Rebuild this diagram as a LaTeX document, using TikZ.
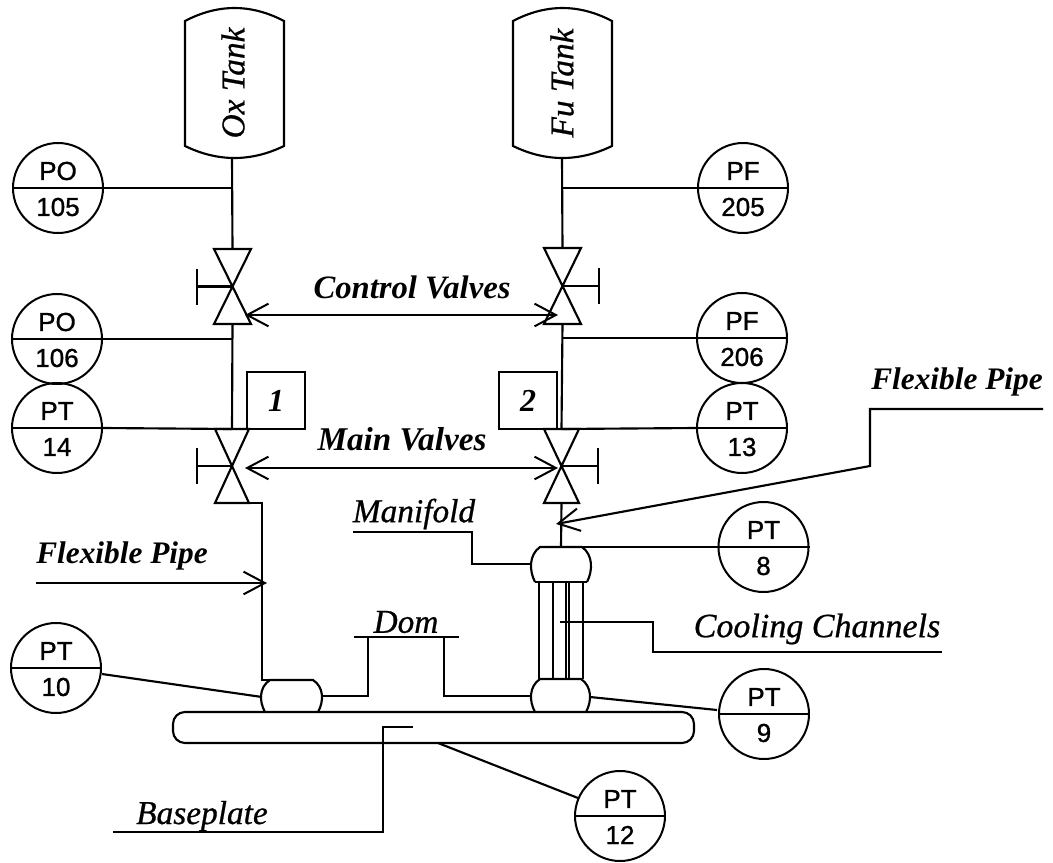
\documentclass[tikz,border=0pt]{standalone}
\usepackage{fontspec}
\setmainfont{Liberation Serif}
\newfontfamily\gaugefont[FakeBold=1]{Liberation Sans}
\newfontfamily\lblfont[ItalicFeatures={FakeBold=0.7}]{Liberation Serif}
\usetikzlibrary{arrows.meta}
\tikzset{
  pipe/.style={line width=1.6pt,line join=miter},
  lead/.style={line width=1.6pt},
  thinline/.style={line width=1.1pt},
  barbs/.style={-{Straight Barb[length=16pt,width=17pt,line width=1.5pt]}},
  bothbarbs/.style={{Straight Barb[length=16pt,width=17pt,line width=1.5pt]}-{Straight Barb[length=16pt,width=17pt,line width=1.5pt]}},
  gaugebox/.style={circle,draw,line width=1.5pt,minimum size=67.5pt,inner sep=0pt},
  gaugetxt/.style={font=\gaugefont\fontsize{19.5}{20}\selectfont,inner sep=0pt},
  labelb/.style={font=\bfseries\itshape\fontsize{#1}{26}\selectfont,inner sep=0pt},
  labelb/.default=24.2,
  labeli/.style={font=\lblfont\itshape\fontsize{#1}{27}\selectfont,inner sep=0pt},
  labeli/.default=25,
  numbox/.style={draw,line width=1.5pt,inner sep=0pt,minimum width=44pt,minimum height=43pt,font=\bfseries\itshape\fontsize{24}{26}\selectfont},
  every node/.append style={text=black}
}
% gauge: name, x, y, upper text, lower text
\newcommand{\mygauge}[5]{%
  \node[gaugebox] (#1) at (#2,#3) {};
  \draw[line width=1.5pt] (#1.west) -- (#1.east);
  \node[gaugetxt] (#1u) at (#2,#3-17) {#4};
  \node[gaugetxt] (#1l) at (#2,#3+19) {#5};
}
% valve: name, cx, top, bottom, half width, handle x
\newcommand{\myvalve}[6]{%
  \coordinate (#1t) at (#2,#3);
  \coordinate (#1b) at (#2,#4);
  \coordinate (#1c) at (#2,{(#3+#4)/2});
  \coordinate (#1r) at (#2+#5,#4);
  \coordinate (#1h) at (#6,{(#3+#4)/2});
  \draw[pipe] (#2-#5,#3) -- (#2+#5,#3) -- (#2-#5,#4) -- (#2+#5,#4) -- cycle;
  \draw[pipe] (#1c) -- (#1h);
  \draw[pipe] (#6,{(#3+#4)/2-18}) -- (#6,{(#3+#4)/2+18});
}
% chamber: x1,y1,x2,y2 (open at the bottom)
\newcommand{\mychamber}[4]{%
  \draw[pipe] (#1+4,#4) .. controls (#1-2,{#4-(#4-#2)*0.33}) and (#1-2,{#2+(#4-#2)*0.22}) .. (#1+9,#2)
    -- (#3-9,#2) .. controls (#3+2,{#2+(#4-#2)*0.22}) and (#3+2,{#4-(#4-#2)*0.33}) .. (#3-4,#4);
}
% tank: x1,x2
\newcommand{\mytank}[2]{%
  \draw[pipe] (#1,21) .. controls ({#1+33},3.7) and ({#2-33},3.7) .. (#2,21)
    -- (#2,146) .. controls ({#2-33},162) and ({#1+33},162) .. (#1,146) -- cycle;
}
\begin{document}
\begin{tikzpicture}[x=0.75pt,y=-0.75pt]
\useasboundingbox (0,0) rectangle (1053,863);
% tanks
\mytank{185}{284}
\mytank{513}{612}
\node[labeli,rotate=90] (oxtank) at (233,83) {Ox Tank};
\node[labeli,rotate=90] (futank) at (562,83) {Fu Tank};
\coordinate (oxout) at (232,158);
\coordinate (fuout) at (562,158);
% valves
\myvalve{cvl}{232.5}{249}{324}{18.5}{197}
\myvalve{cvr}{562.5}{248}{324}{18.5}{599}
\myvalve{mvl}{232}{429}{503}{17}{197}
\myvalve{mvr}{561.5}{429}{503}{17.5}{598}
% gauges
\mygauge{po105}{58}{188}{PO}{105}
\mygauge{pf205}{743}{188}{PF}{205}
\mygauge{po106}{57}{339}{PO}{106}
\mygauge{pf206}{742}{338}{PF}{206}
\mygauge{pt14}{57}{428}{PT}{14}
\mygauge{pt13}{742}{428}{PT}{13}
\mygauge{pt8}{763.5}{547}{PT}{8}
\mygauge{pt9}{764}{714}{PT}{9}
\mygauge{pt10}{56}{668}{PT}{10}
\mygauge{pt12}{620}{816}{PT}{12}
% number boxes
\node[numbox] (b1) at (276,400.5) {1};
\node[numbox] (b2) at (528,400.5) {2};
% chambers and baseplate
\mychamber{261}{680}{322}{712}
\mychamber{531}{679}{590}{712}
\mychamber{531}{547}{591}{582}
\coordinate (manbl) at (535,582);
\coordinate (manbr) at (587,582);
\draw[pipe] (manbl) -- (manbr);
\coordinate (manL) at (531,564);
\coordinate (botR) at (531,696);
\coordinate (botL) at (322,696);
\node[draw,line width=1.6pt,rounded corners=9pt,minimum width=390.75pt,minimum height=23.25pt,inner sep=0pt] (baseplate) at (433.5,727.5) {};
% cooling channels
\foreach \cx in {539,553,566,569,583}{\draw[thinline] (\cx,582) -- (\cx,679);}
% pipes
\draw[pipe] (oxout) -- (cvlt);
\draw[pipe] (fuout) -- (cvrt);
\draw[pipe] (cvlb) -- (mvlt);
\draw[pipe] (cvrb) -- (mvrt);
\coordinate (pipeLt) at (262,503);
\coordinate (pipeLb) at (262,680);
\coordinate (chamL) at (271,680);
\draw[pipe] (mvlr) -- (pipeLt) -- (pipeLb) -- (chamL);
\coordinate (manT) at (561,547);
\draw[pipe] (mvrb) -- (manT);
% dom
\coordinate (domLb) at (368,696);
\coordinate (domLt) at (368,637);
\coordinate (domRb) at (444,696);
\coordinate (domRt) at (444,637);
\coordinate (domA) at (354,637);
\coordinate (domB) at (459,637);
\draw[pipe] (botL) -- (domLb) -- (domLt);
\draw[pipe] (botR) -- (domRb) -- (domRt);
\draw[pipe] (domA) -- (domB);
\node[labeli] (domt) at (406,622) {Dom};
% gauge leads
\draw[lead] (po105.east) -- (232,188);
\draw[lead] (pf205.west) -- (562,188);
\draw[lead] (po106.east) -- (232,339);
\draw[lead] (pf206.west) -- (562,338);
\draw[lead] (pt14.east) -- (mvlt);
\draw[lead] (pt13.west) -- (mvrt);
\draw[lead] (pt8.west) -- (581,547);
\coordinate (a10) at (262,697);
\draw[lead] (pt10.east |- 0,674) -- (a10);
\coordinate (a9) at (590,697);
\draw[lead] (a9) -- (717,710);
\coordinate (a12) at (438,743);
\draw[lead] (a12) -- (578,798);
% control / main valve arrows
\coordinate (ctlA) at (245,315);
\coordinate (ctlB) at (558,315);
\draw[bothbarbs,line width=1.6pt] (ctlA) -- (ctlB);
\node[labelb=24.5] (ctlt) at (412,287) {Control Valves};
\coordinate (mainA) at (245,468);
\coordinate (mainB) at (558,468);
\draw[bothbarbs,line width=1.6pt] (mainA) -- (mainB);
\node[labelb=24.9] (maint) at (402,439) {Main Valves};
% flexible pipes
\node[labelb=23.5] (flexl) at (122,556) {Flexible Pipe};
\coordinate (flexlA) at (36,583);
\coordinate (flexlB) at (267,583);
\draw[barbs,line width=1.6pt] (flexlA) -- (flexlB);
\node[labelb=23.5] (flexr) at (957,382) {Flexible Pipe};
\coordinate (flexrA) at (1043,409);
\coordinate (flexrB) at (870,409);
\coordinate (flexrC) at (870,466);
\coordinate (flexrD) at (556,524);
\draw[barbs,line width=1.6pt] (flexrA) -- (flexrB) -- (flexrC) -- (flexrD);
% manifold leader
\node[labeli] (mant) at (414,514) {Manifold};
\coordinate (manA) at (353,532);
\coordinate (manB) at (472,532);
\coordinate (manC) at (472,564);
\draw[lead] (manA) -- (manB) -- (manC) -- (manL);
% cooling leader
\node[labeli=25.5] (coolt) at (817,629) {Cooling Channels};
\coordinate (coolA) at (560,622);
\coordinate (coolB) at (653,622);
\coordinate (coolC) at (653,652);
\coordinate (coolD) at (942,652);
\draw[lead] (coolA) -- (coolB) -- (coolC) -- (coolD);
% baseplate leader
\node[labeli] (baset) at (202,816) {Baseplate};
\coordinate (bpA) at (413,727);
\coordinate (bpB) at (383,727);
\coordinate (bpC) at (383,832);
\coordinate (bpD) at (113,832);
\draw[lead] (bpA) -- (bpB) -- (bpC) -- (bpD);
\end{tikzpicture}
\end{document}
